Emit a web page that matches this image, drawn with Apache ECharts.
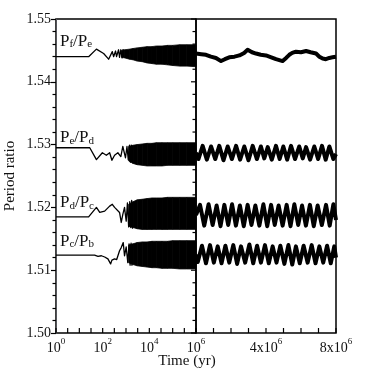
<!DOCTYPE html>
<html>
<head>
<meta charset="utf-8">
<script src="https://cdn.jsdelivr.net/npm/echarts@6/dist/echarts.min.js"></script>
<style>
html, body { margin: 0; padding: 0; background: #fff; }
#chart { width: 374px; height: 374px; }
</style>
</head>
<body>
<div id="chart"></div>
<script>
// values
// left panel (log time): early part drawn as a line, the dense part as a band lo..hi
var pfpeEarlyT = [1, 25, 54, 110, 180, 259, 294, 357, 394, 480, 529, 600, 680, 760]
var pfpeEarlyV = [1.5440, 1.5440, 1.5452, 1.5445, 1.5436, 1.5448, 1.5440, 1.5449, 1.5440, 1.5451, 1.5439, 1.5451, 1.5438, 1.5452]
var pepdEarlyT = [1, 28, 54, 97, 144, 199, 249, 324, 448, 600, 731, 952, 1100, 1250, 1400, 1550, 1700]
var pepdEarlyV = [1.5295, 1.5295, 1.5276, 1.5287, 1.5283, 1.5287, 1.5275, 1.5283, 1.5287, 1.5281, 1.5297, 1.5279, 1.5297, 1.5276, 1.5299, 1.5272, 1.5300]
var pdpcEarlyT = [1, 25, 54, 75, 122, 199, 259, 324, 529, 625, 731, 864, 1020, 1150, 1300, 1450, 1600, 1750, 1900]
var pdpcEarlyV = [1.5185, 1.5185, 1.5200, 1.5192, 1.5194, 1.5202, 1.5205, 1.5200, 1.5192, 1.5176, 1.5189, 1.5200, 1.5178, 1.5207, 1.5169, 1.5209, 1.5168, 1.5211, 1.5166]
var pcpbEarlyT = [1, 45, 63, 88, 122, 168, 219, 249, 324, 400, 529, 625, 760, 864, 1020, 1194, 1350, 1500, 1650, 1800]
var pcpbEarlyV = [1.5124, 1.5124, 1.5122, 1.5123, 1.5121, 1.5118, 1.5110, 1.5116, 1.5118, 1.5117, 1.5131, 1.5136, 1.5144, 1.5123, 1.5137, 1.5112, 1.5142, 1.5108, 1.5143, 1.5107]

var pfpeBandT = [640, 900, 1400, 2000, 3000, 5000, 8000, 13000, 20000, 35000, 60000, 100000, 200000, 400000, 1000000]
var pfpeBandLo = [1.5439, 1.5438, 1.5436, 1.5435, 1.5433, 1.5432, 1.5430, 1.5429, 1.5428, 1.5428, 1.5427, 1.5426, 1.5425, 1.5425, 1.5424]
var pfpeBandHi = [1.5450, 1.5451, 1.5452, 1.5453, 1.5454, 1.5455, 1.5456, 1.5456, 1.5457, 1.5457, 1.5458, 1.5458, 1.5459, 1.5459, 1.5459]
var bandT = [1300, 2000, 3000, 5000, 8000, 13000, 20000, 35000, 60000, 100000, 200000, 400000, 1000000]
var pepdBandLo = [1.5274, 1.5270, 1.5268, 1.5267, 1.5266, 1.5266, 1.5266, 1.5266, 1.5267, 1.5267, 1.5267, 1.5267, 1.5267]
var pepdBandHi = [1.5297, 1.5299, 1.5300, 1.5301, 1.5302, 1.5302, 1.5303, 1.5303, 1.5303, 1.5303, 1.5303, 1.5303, 1.5303]
var pdpcBandLo = [1.5170, 1.5168, 1.5166, 1.5165, 1.5165, 1.5165, 1.5165, 1.5165, 1.5165, 1.5165, 1.5165, 1.5165, 1.5165]
var pdpcBandHi = [1.5205, 1.5209, 1.5212, 1.5213, 1.5214, 1.5215, 1.5215, 1.5215, 1.5216, 1.5216, 1.5216, 1.5216, 1.5216]
var pcpbBandLo = [1.5112, 1.5109, 1.5107, 1.5106, 1.5105, 1.5104, 1.5104, 1.5103, 1.5103, 1.5103, 1.5102, 1.5102, 1.5102]
var pcpbBandHi = [1.5140, 1.5142, 1.5144, 1.5145, 1.5145, 1.5146, 1.5146, 1.5146, 1.5146, 1.5147, 1.5147, 1.5147, 1.5147]

// right panel (linear time, in units of 10^6 yr)
var pfpeRightT = [0, 0.3, 0.57, 0.85, 1.14, 1.43, 1.65, 1.9, 2.2, 2.48, 2.75, 2.95, 3.2, 3.43, 3.7, 4.0, 4.3, 4.57, 4.95, 5.15, 5.33, 5.5, 5.71, 6.0, 6.29, 6.55, 6.86, 7.05, 7.24, 7.42, 7.62, 7.8, 8.0]
var pfpeRightV = [1.5445, 1.5444, 1.5443, 1.5440, 1.5438, 1.5433, 1.5436, 1.5439, 1.5440, 1.5442, 1.5446, 1.5451, 1.5447, 1.5445, 1.5443, 1.5442, 1.5439, 1.5436, 1.5433, 1.5438, 1.5443, 1.5446, 1.5448, 1.5447, 1.5449, 1.5447, 1.5445, 1.5440, 1.5437, 1.5436, 1.5438, 1.5439, 1.5440]
var pepdRightT = [0, 0.14, 0.38, 0.62, 0.86, 1.10, 1.33, 1.57, 1.81, 2.05, 2.29, 2.52, 2.76, 3.00, 3.24, 3.48, 3.71, 3.90, 4.10, 4.33, 4.57, 4.78, 4.99, 5.21, 5.43, 5.66, 5.90, 6.10, 6.29, 6.52, 6.76, 6.98, 7.20, 7.41, 7.62, 7.85, 8.0]
var pepdRightV = [1.5287, 1.5277, 1.5298, 1.5276, 1.5297, 1.5277, 1.5298, 1.5275, 1.5297, 1.5277, 1.5298, 1.5276, 1.5297, 1.5275, 1.5298, 1.5277, 1.5297, 1.5278, 1.5296, 1.5276, 1.5298, 1.5277, 1.5297, 1.5276, 1.5298, 1.5277, 1.5297, 1.5278, 1.5296, 1.5276, 1.5297, 1.5277, 1.5298, 1.5276, 1.5297, 1.5277, 1.5285]
var pdpcRightT = [0, 0.23, 0.47, 0.72, 0.95, 1.18, 1.40, 1.62, 1.84, 2.06, 2.28, 2.51, 2.73, 2.95, 3.17, 3.39, 3.62, 3.85, 4.07, 4.29, 4.50, 4.72, 4.95, 5.18, 5.40, 5.62, 5.84, 6.06, 6.28, 6.51, 6.73, 6.95, 7.19, 7.43, 7.64, 7.85, 8.0]
var pdpcRightV = [1.5188, 1.5204, 1.5171, 1.5205, 1.5172, 1.5203, 1.5170, 1.5204, 1.5172, 1.5205, 1.5171, 1.5203, 1.5170, 1.5204, 1.5172, 1.5203, 1.5171, 1.5205, 1.5170, 1.5204, 1.5172, 1.5203, 1.5171, 1.5204, 1.5170, 1.5205, 1.5172, 1.5203, 1.5171, 1.5204, 1.5170, 1.5203, 1.5172, 1.5204, 1.5171, 1.5205, 1.5180]
var pcpbRightT = [0, 0.10, 0.34, 0.57, 0.80, 1.02, 1.24, 1.46, 1.68, 1.90, 2.13, 2.35, 2.57, 2.81, 3.05, 3.27, 3.49, 3.71, 3.94, 4.16, 4.38, 4.60, 4.82, 5.05, 5.28, 5.50, 5.71, 5.93, 6.15, 6.38, 6.61, 6.83, 7.05, 7.27, 7.49, 7.70, 7.90, 8.0]
var pcpbRightV = [1.5125, 1.5113, 1.5139, 1.5111, 1.5140, 1.5112, 1.5138, 1.5111, 1.5139, 1.5112, 1.5140, 1.5110, 1.5138, 1.5112, 1.5141, 1.5111, 1.5139, 1.5112, 1.5140, 1.5111, 1.5138, 1.5112, 1.5139, 1.5110, 1.5140, 1.5109, 1.5138, 1.5111, 1.5139, 1.5112, 1.5140, 1.5111, 1.5138, 1.5112, 1.5139, 1.5111, 1.5138, 1.5120]

var ratioSubs = [['f', 'e'], ['e', 'd'], ['d', 'c'], ['c', 'b']]
var labelY = [1.5467, 1.5313, 1.5210, 1.5148]
var yTicks = [1.50, 1.51, 1.52, 1.53, 1.54, 1.55]

// inward tick positions: half decades on the log panel, 10^6 yr steps on the linear one,
// and major/minor ratio ticks on the divider between the panels
var logTickExp = [0, 0.5, 1, 1.5, 2, 2.5, 3, 3.5, 4, 4.5, 5, 5.5, 6]
var linTickMyr = [0, 1, 2, 3, 4, 5, 6, 7, 8]
var dividerMinor = [1.502, 1.504, 1.506, 1.508, 1.512, 1.514, 1.516, 1.518, 1.522, 1.524, 1.526, 1.528,
  1.532, 1.534, 1.536, 1.538, 1.542, 1.544, 1.546, 1.548]

var font = 'Liberation Serif'
var chart = echarts.init(document.getElementById('chart'))

function pairs(t, v, scale) {
  return t.map(function (x, i) { return [x * (scale || 1), v[i]] })
}
// one polygon piece per pair of neighbouring band samples
function bandPieces(t, lo, hi) {
  var out = []
  for (var i = 0; i < t.length - 1; i++) {
    out.push([t[i], lo[i], hi[i], t[i + 1], lo[i + 1], hi[i + 1]])
  }
  return out
}
function bandSeries(t, lo, hi) {
  return {
    type: 'custom',
    xAxisIndex: 0,
    yAxisIndex: 0,
    data: bandPieces(t, lo, hi),
    encode: { x: [0, 3], y: [1, 2, 4, 5] },
    renderItem: function (params, api) {
      var a = api.coord([api.value(0), api.value(1)])
      var b = api.coord([api.value(0), api.value(2)])
      var c = api.coord([api.value(3), api.value(5)])
      var d = api.coord([api.value(3), api.value(4)])
      return {
        type: 'polygon',
        shape: { points: [a, b, c, d] },
        style: { fill: '#000', stroke: '#000', lineWidth: 0.8 }
      }
    },
    silent: true
  }
}
// short tick strokes: kind 0 points up from the bottom edge,
// kind 1 (major) and 2 (minor) point left from the divider
function tickSeries(data, xi) {
  return {
    type: 'custom',
    xAxisIndex: xi,
    yAxisIndex: xi,
    data: data,
    encode: { x: 0, y: 1 },
    z: 5,
    silent: true,
    renderItem: function (params, api) {
      var p = api.coord([api.value(0), api.value(1)])
      var kind = api.value(2)
      var q = kind === 0 ? [p[0], p[1] - 5] : [p[0] - (kind === 1 ? 5 : 3.5), p[1]]
      return {
        type: 'line',
        shape: { x1: p[0], y1: p[1], x2: q[0], y2: q[1] },
        style: { stroke: '#000', lineWidth: 1.2 }
      }
    }
  }
}
function lineSeries(data, xi, width, label) {
  var s = {
    type: 'line',
    xAxisIndex: xi,
    yAxisIndex: xi,
    data: data,
    showSymbol: false,
    symbol: 'none',
    lineStyle: { color: '#000', width: width, join: 'round' },
    silent: true,
    animation: false
  }
  if (label) {
    s.markPoint = {
      symbol: 'circle',
      symbolSize: 0,
      data: [{ coord: label.coord }],
      label: {
        show: true,
        position: 'right',
        distance: 0,
        formatter: '{p|P}{s|' + label.subs[0] + '}{p|/P}{s|' + label.subs[1] + '}',
        rich: {
          p: { fontFamily: font, fontSize: 17, color: '#111', lineHeight: 20, verticalAlign: 'bottom' },
          s: { fontFamily: font, fontSize: 11, color: '#111', lineHeight: 14, verticalAlign: 'bottom' }
        }
      }
    }
  }
  return s
}

var earlyT = [pfpeEarlyT, pepdEarlyT, pdpcEarlyT, pcpbEarlyT]
var earlyV = [pfpeEarlyV, pepdEarlyV, pdpcEarlyV, pcpbEarlyV]
var bands = [
  [pfpeBandT, pfpeBandLo, pfpeBandHi],
  [bandT, pepdBandLo, pepdBandHi],
  [bandT, pdpcBandLo, pdpcBandHi],
  [bandT, pcpbBandLo, pcpbBandHi]
]
var rightT = [pfpeRightT, pepdRightT, pdpcRightT, pcpbRightT]
var rightV = [pfpeRightV, pepdRightV, pdpcRightV, pcpbRightV]

var series = []
for (var k = 0; k < 4; k++) {
  series.push(bandSeries(bands[k][0], bands[k][1], bands[k][2]))
  series.push(lineSeries(pairs(earlyT[k], earlyV[k]), 0, 1.3, { coord: [1.48, labelY[k]], subs: ratioSubs[k] }))
  series.push(lineSeries(pairs(rightT[k], rightV[k], 1e6), 1, 4))
}

var leftTicks = logTickExp.map(function (e) { return [Math.pow(10, e), 1.50, 0] })
  .concat(yTicks.map(function (v) { return [1e6, v, 1] }))
  .concat(dividerMinor.map(function (v) { return [1e6, v, 2] }))
var rightTicks = linTickMyr.map(function (t) { return [t * 1e6, 1.50, 0] })
series.push(tickSeries(leftTicks, 0))
series.push(tickSeries(rightTicks, 1))

function supRich() {
  return {
    b: { fontFamily: font, fontSize: 14, color: '#111', lineHeight: 18, verticalAlign: 'bottom' },
    s: { fontFamily: font, fontSize: 9, color: '#111', lineHeight: 18, verticalAlign: 'top' }
  }
}
function tickStyle() {
  return { color: '#000', width: 1.2 }
}

chart.setOption({
  animation: false,
  grid: [
    { left: 56, top: 19, width: 140, height: 314, show: true, borderColor: '#000', borderWidth: 1.5 },
    { left: 196, top: 19, width: 140, height: 314, show: true, borderColor: '#000', borderWidth: 1.5 }
  ],
  xAxis: [{
    type: 'log',
    gridIndex: 0,
    logBase: 10,
    min: 1,
    max: 1e6,
    splitNumber: 6,
    axisLine: { show: false },
    axisTick: { show: false },
    splitLine: { show: false },
    axisLabel: {
      margin: 4,
      formatter: function (v) {
        var e = Math.round(Math.log10(v))
        if (e % 2 !== 0 || e === 6) return ''
        return '{b|10}{s|' + e + '}'
      },
      rich: supRich()
    }
  }, {
    type: 'value',
    gridIndex: 1,
    min: 0,
    max: 8e6,
    interval: 1e6,
    axisLine: { show: false },
    splitLine: { show: false },
    axisTick: { show: false },
    axisLabel: {
      margin: 4,
      formatter: function (v) {
        if (v === 0) return '{b|10}{s|6}'
        if (v === 4e6) return '{b|4x10}{s|6}'
        if (v === 8e6) return '{b|8x10}{s|6}'
        return ''
      },
      rich: supRich()
    }
  }],
  yAxis: [{
    type: 'value',
    gridIndex: 0,
    min: 1.50,
    max: 1.55,
    interval: 0.01,
    name: 'Period ratio',
    nameLocation: 'middle',
    nameGap: 38,
    nameTextStyle: { fontFamily: font, fontSize: 15, color: '#111' },
    axisLine: { show: true, onZero: false },
    splitLine: { show: false },
    axisTick: { show: true, inside: false, length: 5, lineStyle: tickStyle() },
    minorTick: { show: true, splitNumber: 5, length: 3.5, lineStyle: tickStyle() },
    axisLabel: {
      margin: 5,
      fontFamily: font,
      fontSize: 14,
      color: '#111',
      formatter: function (v) { return yTicks.indexOf(+v.toFixed(2)) >= 0 ? v.toFixed(2) : '' }
    }
  }, {
    type: 'value',
    gridIndex: 1,
    min: 1.50,
    max: 1.55,
    interval: 0.01,
    axisLine: { show: false },
    splitLine: { show: false },
    axisLabel: { show: false },
    axisTick: { show: false }
  }],
  graphic: [{
    type: 'text',
    x: 187,
    y: 361,
    style: { text: 'Time (yr)', fontFamily: font, fontSize: 15, fill: '#111', textAlign: 'center', textVerticalAlign: 'middle' }
  }],
  series: series
})
</script>
</body>
</html>
